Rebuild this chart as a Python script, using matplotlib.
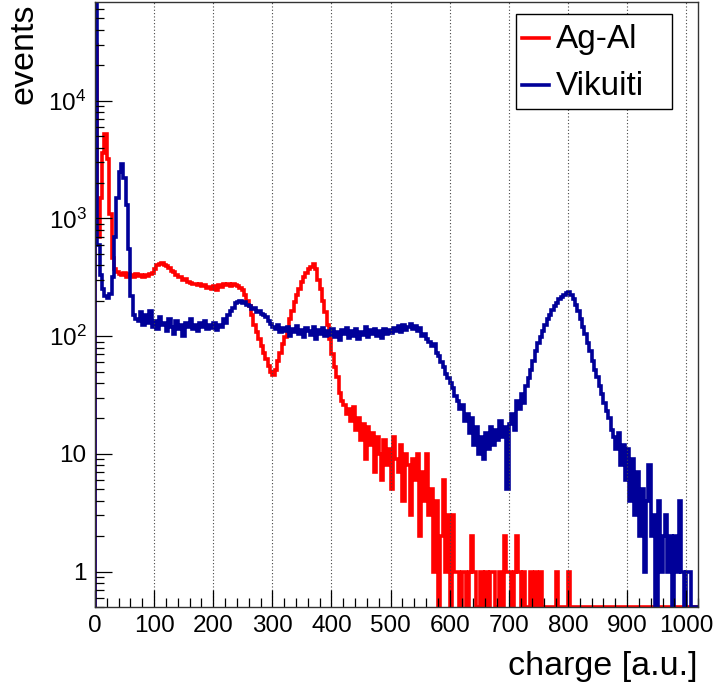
import numpy as np
import matplotlib
matplotlib.use("Agg")
import matplotlib.pyplot as plt
from matplotlib.lines import Line2D
from matplotlib.patches import Rectangle
from matplotlib.ticker import FixedLocator, FixedFormatter, MultipleLocator, LogLocator

plt.rcParams['font.family'] = ['Liberation Sans', 'DejaVu Sans']
plt.rcParams['mathtext.fontset'] = 'custom'
plt.rcParams['mathtext.rm'] = 'Liberation Sans'
plt.rcParams['mathtext.it'] = 'Liberation Sans'

# histogram binning: 4 a.u. per bin, starting at 0
bin_width = 4

# counts per bin, one row per 100 a.u.
ag_al_counts = [
    30000, 700, 1500, 3600, 5200, 3200, 1100, 460, 370, 350, 340, 330, 345, 320, 335, 330, 320, 340, 325, 330, 315, 330, 325, 340, 345,
    375, 400, 410, 420, 400, 395, 380, 360, 350, 330, 320, 315, 300, 305, 290, 285, 280, 275, 270, 280, 265, 270, 255, 260, 250,
    265, 245, 270, 260, 275, 270, 280, 265, 275, 270, 265, 255, 245, 225, 200, 180, 150, 125, 108, 95, 82, 72, 64, 56, 50,
    47, 52, 62, 72, 85, 98, 118, 140, 165, 195, 225, 250, 290, 320, 345, 370, 390, 410, 370, 300, 250, 200, 160, 125, 95,
    70, 55, 45, 33, 28, 26, 22, 24, 19, 25, 16, 20, 13, 18, 9, 17, 12, 15, 7, 14, 10, 6, 13, 8, 11,
    5, 14, 9, 7, 12, 4, 10, 8, 3, 9, 6, 10, 2, 7, 4, 10, 3, 5, 1, 4, 0, 2, 6, 1, 3,
    0, 3, 1, 1, 0, 1, 1, 0, 1, 2, 1, 0, 0, 1, 0, 1, 0, 1, 1, 0, 0, 1, 0, 2, 1,
    1, 0, 1, 2, 1, 0, 1, 0, 0, 1, 0, 1, 0, 1, 0, 0, 0, 0, 0, 0, 1, 0, 0, 0, 0,
    1, 0, 0, 0, 0, 0, 0, 0, 0, 0, 0, 0, 0, 0, 0, 0, 0, 0, 0, 0, 0, 0, 0, 0, 0,
    0, 0, 0, 0, 0, 0, 0, 0, 0, 0, 0, 0, 0, 0, 0, 0, 0, 0, 0, 0, 0, 0, 0, 0, 0,
    0, 0, 0, 0, 0, 0,
]

vikuiti_counts = [
    70000, 600, 330, 250, 220, 210, 230, 320, 700, 1500, 2500, 2900, 2200, 1300, 550, 220, 150, 140, 135, 160, 125, 150, 130, 165, 120,
    135, 115, 145, 125, 130, 110, 140, 120, 105, 135, 115, 125, 100, 130, 120, 140, 115, 125, 110, 130, 120, 135, 115, 125, 118,
    130, 112, 125, 120, 140, 130, 150, 165, 175, 190, 195, 200, 190, 195, 185, 180, 170, 175, 160, 165, 155, 150, 145, 135, 128,
    120, 115, 125, 108, 118, 110, 120, 100, 115, 108, 122, 105, 112, 98, 118, 110, 102, 120, 95, 112, 105, 118, 100, 110, 103,
    115, 98, 108, 92, 112, 104, 118, 96, 110, 100, 114, 95, 108, 102, 120, 98, 112, 105, 116, 100, 110, 97, 115, 104, 112,
    106, 118, 110, 122, 108, 125, 112, 120, 128, 115, 122, 110, 118, 100, 105, 95, 90, 82, 85, 72, 68, 60, 55, 48, 44,
    40, 36, 31, 28, 24, 26, 19, 22, 15, 20, 12, 17, 10, 14, 9, 15, 11, 17, 12, 16, 13, 19, 14, 17, 5,
    18, 22, 16, 28, 24, 32, 27, 38, 44, 52, 62, 75, 88, 98, 110, 125, 140, 150, 168, 180, 190, 205, 215, 225, 232,
    236, 225, 205, 185, 165, 140, 120, 105, 88, 75, 62, 52, 45, 38, 32, 27, 23, 20, 16, 14, 11, 15, 8, 12, 6,
    11, 4, 9, 3, 7, 2, 5, 1, 4, 8, 2, 3, 0, 4, 1, 2, 3, 1, 2, 0, 2, 1, 4, 1, 0,
    1, 1, 0, 0, 0, 0,
]

series_names = ["Ag-Al", "Vikuiti"]
series_colors = ["#ff0000", "#000099"]

x_min, x_max = 0, 1020
y_min, y_max = 0.5, 6.9e4

edges = np.arange(0, bin_width * (len(ag_al_counts) + 1), bin_width)

W, H = 717, 688
fig = plt.figure(figsize=(W / 100, H / 100), dpi=100)
ax = fig.add_axes([95 / W, 1 - 607 / H, 603 / W, 605 / H])

for counts, color in zip([ag_al_counts, vikuiti_counts], series_colors):
    # empty bins are drawn on the frame bottom, like ROOT does
    vals = np.maximum(np.array(counts, dtype=float), y_min)
    ax.stairs(vals, edges, baseline=y_min, color=color, lw=2.6)

ax.set_yscale("log")
ax.set_xlim(x_min, x_max)
ax.set_ylim(y_min, y_max)

ax.xaxis.set_major_locator(MultipleLocator(100))
ax.xaxis.set_minor_locator(MultipleLocator(20))
ax.yaxis.set_major_locator(FixedLocator([1, 10, 100, 1000, 10000]))
ax.yaxis.set_major_formatter(FixedFormatter(["1", "10", r"10$^{2}$", r"10$^{3}$", r"10$^{4}$"]))
ax.yaxis.set_minor_locator(LogLocator(base=10, subs=np.arange(2, 10), numticks=20))
ax.yaxis.set_minor_formatter(FixedFormatter([]))

ax.tick_params(which="both", direction="in", top=False, right=False, width=0.9, colors="black", labelsize=17.5)
ax.tick_params(which="major", length=12, pad=6)
ax.tick_params(which="minor", length=6.5)

ax.grid(axis="x", which="major", linestyle=(0, (1, 2)), color="#444444", lw=0.8)
for sp in ax.spines.values():
    sp.set_linewidth(1.0)
    sp.set_color("#333333")

fig.text(24 / W, 1 - 3 / H, "events", rotation=90, ha="center", va="top", fontsize=24.5)
fig.text(697 / W, 1 - 675 / H, "charge [a.u.]", ha="right", va="baseline", fontsize=24.5)

# legend box drawn by hand to keep ROOT's fixed-size layout
fig.patches.append(Rectangle((516 / W, 1 - 109 / H), 156 / W, 95 / H, transform=fig.transFigure,
                             facecolor="white", edgecolor="black", lw=1.0, zorder=5))
for i, (name, color) in enumerate(zip(series_names, series_colors)):
    yc = 38 + 47 * i
    fig.lines.append(Line2D([522 / W, 549 / W], [1 - yc / H, 1 - yc / H], transform=fig.transFigure,
                            color=color, lw=2.6, zorder=6))
    fig.text(556 / W, 1 - (yc + 10) / H, name, ha="left", va="baseline", fontsize=24, zorder=6)

fig.savefig("out.png", dpi=100)
